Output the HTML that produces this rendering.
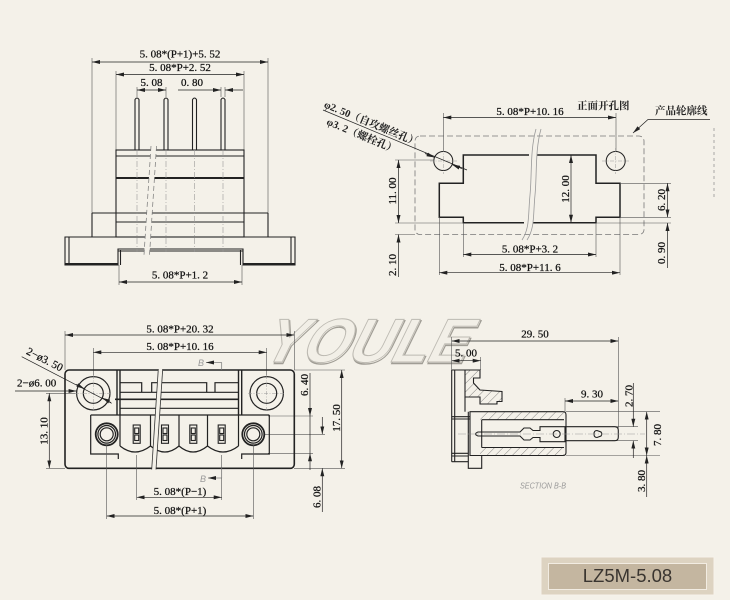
<!DOCTYPE html>
<html><head><meta charset="utf-8"><style>
html,body{margin:0;padding:0;background:#f4f1e9;}
svg{display:block}
.d{font-family:"Liberation Serif","Noto Serif CJK SC",serif;font-size:11px;fill:#111;stroke:#111;stroke-width:0.25px;}
.c{font-family:"Liberation Serif","Noto Serif CJK SC",serif;font-size:10.5px;fill:#222;font-weight:bold;}
</style></head><body>
<svg width="730" height="600" viewBox="0 0 730 600" xmlns="http://www.w3.org/2000/svg">
<defs>
<marker id="a" viewBox="0 0 8 4" refX="8" refY="2" markerWidth="8" markerHeight="4" markerUnits="userSpaceOnUse" orient="auto-start-reverse"><path d="M0,0L8,2L0,4z" fill="#222"/></marker>
<pattern id="h" patternUnits="userSpaceOnUse" width="6" height="6" patternTransform="rotate(45)"><line x1="0" y1="0" x2="0" y2="6" stroke="#555" stroke-width="0.7"/></pattern>
</defs>
<rect width="730" height="600" fill="#f4f1e9"/>

<!-- watermark -->
<g transform="translate(258,362) skewX(-26)" font-family="Liberation Sans" font-weight="bold" font-size="62">
<text x="1.5" y="1.5" textLength="205" lengthAdjust="spacingAndGlyphs" fill="none" stroke="#a09d95" stroke-width="1.4">YOULE</text>
<text x="0" y="0" textLength="205" lengthAdjust="spacingAndGlyphs" fill="#f2efe7" stroke="#bdbab2" stroke-width="1">YOULE</text>
</g>

<!-- ============ TOP-LEFT VIEW ============ -->
<g stroke="#555" stroke-width="0.6" fill="none">
<path d="M92,58V213M268,58V213M116,71V150M244,71V150M137,87V97M166,87V97M221,87V97M225,87V97M119,265V285M242,265V285"/>
</g>
<g stroke="#222" fill="none" stroke-width="1.1">
<path d="M135,150V99.5Q137,96.5 139,99.5V150M164,150V99.5Q166,96.5 168,99.5V150M192.5,150V99.5Q194.5,96.5 196.5,99.5V150M221,150V99.5Q223,96.5 225,99.5V150"/>
<rect x="116" y="150" width="128" height="87"/>
<path d="M116,156H244M92,213H268M116,222H244"/>
<path d="M116,178H244" stroke-width="2"/>
<path d="M92,237V213M268,237V213"/>
<path d="M65,237H295V265H243V249H118V265H65Z"/>
<path d="M69,237V265M291,237V265M120.5,250V265M240.5,250V265M118,251H243"/>
<path d="M65,264H118M243,264H295" stroke-width="2"/>
</g>
<g stroke="#999" stroke-width="0.6" stroke-dasharray="6 2 1 2">
<path d="M137,150V252M166,150V252M194.5,150V252M223,150V252"/>
</g>
<polygon points="151,146 156.5,146 149.5,255 144,255" fill="#f4f1e9"/>
<g stroke="#777" stroke-width="0.7" stroke-dasharray="5 3">
<line x1="151" y1="146" x2="144" y2="255"/><line x1="156.5" y1="146" x2="149.5" y2="255"/>
</g>
<g stroke="#222" stroke-width="0.7">
<line x1="92" y1="62" x2="268" y2="62" marker-start="url(#a)" marker-end="url(#a)"/>
<line x1="116" y1="74.5" x2="244" y2="74.5" marker-start="url(#a)" marker-end="url(#a)"/>
<line x1="137" y1="90" x2="166" y2="90" marker-start="url(#a)" marker-end="url(#a)"/>
<line x1="178" y1="90" x2="221" y2="90" marker-end="url(#a)"/>
<line x1="243" y1="90" x2="225" y2="90" marker-end="url(#a)"/>
<line x1="119" y1="282" x2="242" y2="282" marker-start="url(#a)" marker-end="url(#a)"/>
</g>
<text class="d" x="180" y="57.5" text-anchor="middle">5. 08*(P+1)+5. 52</text>
<text class="d" x="180" y="71" text-anchor="middle">5. 08*P+2. 52</text>
<text class="d" x="151.5" y="86" text-anchor="middle">5. 08</text>
<text class="d" x="192" y="86" text-anchor="middle">0. 80</text>
<text class="d" x="180" y="278.5" text-anchor="middle">5. 08*P+1. 2</text>

<!-- ============ TOP-RIGHT VIEW ============ -->
<rect x="415" y="136" width="229" height="98.5" rx="5" fill="none" stroke="#777" stroke-width="0.8" stroke-dasharray="6 3"/>
<path d="M463.3,155H596V183.3H620V217.3H596V222.7H463.3V217.3H439.3V183.3H463.3Z" fill="none" stroke="#222" stroke-width="1.5"/>
<rect x="529" y="152" width="8" height="6" fill="#f4f1e9"/>
<rect x="524" y="220" width="9" height="6" fill="#f4f1e9"/>
<g fill="none" stroke="#999" stroke-width="0.8">
<path d="M536,129C530,150 532,175 530,195C528,215 530,228 522,240"/>
<path d="M541,129C535,150 537,175 535,195C533,215 535,228 527,240"/>
</g>
<g fill="none" stroke="#222" stroke-width="1">
<circle cx="443.3" cy="161" r="9.5"/><circle cx="615.7" cy="161" r="9.5"/>
</g>
<g stroke="#999" stroke-width="0.5" stroke-dasharray="4 1.5 1 1.5">
<path d="M430,161H457M443.3,148V174M602,161H629M615.7,148V174"/>
</g>
<path d="M714,128V198" stroke="#888" stroke-width="0.7" stroke-dasharray="3 3"/>
<g stroke="#555" stroke-width="0.6" fill="none">
<path d="M443.3,113V151M616,113V151M395,160H434M395,223H463M596,223H671M395,234.5H415M620,183.3H671M620,217.3H671M463.3,223V257M596,223V257M439.3,217V275M620,217V275"/>
</g>
<g stroke="#222" stroke-width="0.7">
<line x1="443.3" y1="117.5" x2="616" y2="117.5" marker-start="url(#a)" marker-end="url(#a)"/>
<line x1="398.5" y1="160" x2="398.5" y2="223" marker-start="url(#a)" marker-end="url(#a)"/>
<line x1="398.5" y1="277" x2="398.5" y2="234.5" marker-end="url(#a)"/>
<line x1="571" y1="155" x2="571" y2="222.7" marker-start="url(#a)" marker-end="url(#a)"/>
<line x1="667.5" y1="183.3" x2="667.5" y2="217.3" marker-start="url(#a)" marker-end="url(#a)"/>
<line x1="667.5" y1="268" x2="667.5" y2="223" marker-end="url(#a)"/>
<line x1="463.3" y1="254.5" x2="596" y2="254.5" marker-start="url(#a)" marker-end="url(#a)"/>
<line x1="439.3" y1="272.7" x2="620" y2="272.7" marker-start="url(#a)" marker-end="url(#a)"/>
<line x1="323" y1="110" x2="467" y2="170"/>
<line x1="425" y1="153.5" x2="434.5" y2="157.4" marker-end="url(#a)"/>
<line x1="462" y1="168.7" x2="452.1" y2="164.6" marker-end="url(#a)"/>
<polyline points="710,119.5 648,119.5 633,133" fill="none" marker-end="url(#a)"/>
</g>
<text class="d" x="530" y="115" text-anchor="middle">5. 08*P+10. 16</text>
<text class="d" x="530" y="252.5" text-anchor="middle">5. 08*P+3. 2</text>
<text class="d" x="530" y="271" text-anchor="middle">5. 08*P+11. 6</text>
<text class="d" transform="translate(396,191) rotate(-90)" text-anchor="middle">11. 00</text>
<text class="d" transform="translate(396,265) rotate(-90)" text-anchor="middle">2. 10</text>
<text class="d" transform="translate(569,189) rotate(-90)" text-anchor="middle">12. 00</text>
<text class="d" transform="translate(665,200) rotate(-90)" text-anchor="middle">6. 20</text>
<text class="d" transform="translate(665,253) rotate(-90)" text-anchor="middle">0. 90</text>
<text class="c" x="577" y="109" font-size="10">正面开孔图</text>
<text class="c" x="655" y="114" font-size="10.5">产品轮廓线</text>
<text class="c" transform="translate(323,108) rotate(22.6)" x="0" y="-1">φ2. 50（自攻螺丝孔）</text>
<text class="c" transform="translate(323,108) rotate(22.6)" x="9" y="14">φ3. 2（螺栓孔）</text>

<!-- ============ BOTTOM-LEFT VIEW ============ -->
<g stroke="#555" stroke-width="0.6" fill="none">
<path d="M65,331V370M294.3,331V370M93.3,348V377M266.7,348V377M46,393.3H77M46,468.3H65M268,416H313M268,453.3H313M264,434.3H325M294,370H345M294,468.3H345"/>
</g>
<g stroke="#222" fill="none" stroke-width="1.2">
<rect x="65" y="370" width="229.3" height="98.3" rx="4" stroke-width="1.6"/>
<circle cx="93.3" cy="393.3" r="16.7"/><circle cx="93.3" cy="393.3" r="10"/>
<circle cx="266.7" cy="393.3" r="16.7"/><circle cx="266.7" cy="393.3" r="10"/>
<path d="M117,370V415M120,370V415M238.5,370V415M241.7,370V415" stroke-width="1.4"/>
<path d="M120,382.7H141.7V392.3M151.7,392.3V382.7H206.7V392.3M215,392.3V382.7H238.5"/>
<path d="M120,392.3H238.5"/>
<path d="M115,399.3H238.5" stroke-width="1.6"/>
<path d="M120,408.3H238.5"/>
<path d="M90.7,415H269.3"/>
<path d="M90.7,415V454H118.3V459M269.3,415V454H241.7V459"/>
<path d="M120,415V446M238.5,415V446M150.5,415V446M179,415V446M207.5,415V446"/>
<path d="M120,446Q135,458 150.5,446Q165,458 179,446Q193,458 207.5,446Q223,458 238.5,446"/>
<circle cx="106.7" cy="434.3" r="11" stroke-width="1.8"/><circle cx="106.7" cy="434.3" r="8.8"/><circle cx="106.7" cy="434.3" r="6.5"/>
<circle cx="253.3" cy="434.3" r="11" stroke-width="1.8"/><circle cx="253.3" cy="434.3" r="8.8"/><circle cx="253.3" cy="434.3" r="6.5"/>
<g stroke-width="1.1">
<rect x="133.2" y="425" width="7" height="18.3"/><rect x="134.7" y="428" width="4" height="5.5"/><rect x="134.7" y="435" width="4" height="5.5"/>
<rect x="161.5" y="425" width="7" height="18.3"/><rect x="163" y="428" width="4" height="5.5"/><rect x="163" y="435" width="4" height="5.5"/>
<rect x="189.8" y="425" width="7" height="18.3"/><rect x="191.3" y="428" width="4" height="5.5"/><rect x="191.3" y="435" width="4" height="5.5"/>
<rect x="218.2" y="425" width="7" height="18.3"/><rect x="219.7" y="428" width="4" height="5.5"/><rect x="219.7" y="435" width="4" height="5.5"/>
</g>
</g>
<g stroke="#999" stroke-width="0.5" stroke-dasharray="4 1.5 1 1.5">
<path d="M75,393.3H112M93.3,375V412M248,393.3H285M266.7,375V412"/>
</g>
<g stroke="#555" stroke-width="0.6">
<path d="M136.7,455V500M221.7,455V500M106.7,445V519M253.3,445V519"/>
</g>
<polygon points="158.3,369 162.7,369 156,469.5 151.7,469.5" fill="#f4f1e9"/>
<g stroke="#333" stroke-width="0.8">
<line x1="158.3" y1="369" x2="151.7" y2="469.5"/><line x1="162.7" y1="369" x2="156" y2="469.5"/>
</g>
<g stroke="#777" stroke-width="0.7" fill="none">
<path d="M221.7,362.5V370M221.7,468V478"/>
<line x1="221.7" y1="362.5" x2="206" y2="362.5" marker-end="url(#a)"/>
<line x1="221.7" y1="478" x2="208" y2="478" marker-end="url(#a)"/>
</g>
<text x="198" y="366" font-family="Liberation Sans" font-style="italic" font-size="9" fill="#999">B</text>
<text x="200" y="482" font-family="Liberation Sans" font-style="italic" font-size="9" fill="#999">B</text>
<g stroke="#222" stroke-width="0.7">
<line x1="65" y1="335" x2="294.3" y2="335" marker-start="url(#a)" marker-end="url(#a)"/>
<line x1="93.3" y1="352.3" x2="266.7" y2="352.3" marker-start="url(#a)" marker-end="url(#a)"/>
<line x1="136.7" y1="497.3" x2="221.7" y2="497.3" marker-start="url(#a)" marker-end="url(#a)"/>
<line x1="106.7" y1="516" x2="253.3" y2="516" marker-start="url(#a)" marker-end="url(#a)"/>
<line x1="49.3" y1="393.3" x2="49.3" y2="468.3" marker-start="url(#a)" marker-end="url(#a)"/>
<line x1="310" y1="373" x2="310" y2="416" marker-end="url(#a)"/>
<line x1="310" y1="470" x2="310" y2="453.3" marker-end="url(#a)"/>
<line x1="310" y1="416" x2="310" y2="453.3"/>
<line x1="341.7" y1="370" x2="341.7" y2="468.3" marker-start="url(#a)" marker-end="url(#a)"/>
<line x1="322.3" y1="417" x2="322.3" y2="434.3" marker-end="url(#a)"/>
<line x1="322.3" y1="512" x2="322.3" y2="468.3" marker-end="url(#a)"/>
<line x1="21.7" y1="356.7" x2="111.7" y2="403.3"/>
<line x1="76" y1="384.3" x2="84.4" y2="388.7" marker-end="url(#a)"/>
<line x1="111" y1="402.5" x2="102.2" y2="397.9" marker-end="url(#a)"/>
<line x1="15" y1="391" x2="76.6" y2="391" marker-end="url(#a)"/>
</g>
<text class="d" x="180" y="332.5" text-anchor="middle">5. 08*P+20. 32</text>
<text class="d" x="180" y="350" text-anchor="middle">5. 08*P+10. 16</text>
<text class="d" x="180" y="495" text-anchor="middle">5. 08*(P−1)</text>
<text class="d" x="180" y="514" text-anchor="middle">5. 08*(P+1)</text>
<text class="d" x="17" y="386.5">2−ø6. 00</text>
<text class="d" transform="translate(25,355) rotate(27)" x="0" y="-1.5">2−ø3. 50</text>
<text class="d" transform="translate(47.5,431) rotate(-90)" text-anchor="middle">13. 10</text>
<text class="d" transform="translate(308,385) rotate(-90)" text-anchor="middle">6. 40</text>
<text class="d" transform="translate(340,418) rotate(-90)" text-anchor="middle">17. 50</text>
<text class="d" transform="translate(320.5,497) rotate(-90)" text-anchor="middle">6. 08</text>

<!-- ============ BOTTOM-RIGHT VIEW (SECTION) ============ -->
<g stroke="#555" stroke-width="0.6" fill="none">
<path d="M451.7,337V370M618.3,337V428M480.7,357V370M565,398V411.7M566,411.7H660M566,455.5H660M612,426.7H638M612,440.7H638"/>
</g>
<polygon points="465,370 480,370 480,378 473.5,378 473.5,383 480,390 502,391.5 502,401.5 497,401.5 497,404 480,404 480,397 465,397" fill="url(#h)" stroke="#222" stroke-width="1.1"/>
<rect x="480" y="411.7" width="84" height="8" fill="url(#h)"/>
<rect x="480" y="447.5" width="84" height="8" fill="url(#h)"/>
<g stroke="#222" fill="none" stroke-width="1.1">
<path d="M451.7,370V461.7M454.7,370V461.7M451.7,370H465M451.7,461.7H468.3M451.7,416.7H470M451.7,419H470M451.7,453.3H468.3M451.7,456H468.3"/>
<path d="M465,397V411.7"/>
<path d="M470,411.7H563Q566,411.7 566,414.7V452.5Q566,455.5 563,455.5H470Z"/>
<path d="M468.3,455.5V468.3H481.7V455.5M468.3,411.7V455.5M481.7,419.7V447.5"/>
<path d="M481.7,419.7H564M481.7,447.5H564"/>
<path d="M478,432Q473,434 478,436H520L524,440H530L533,437.5H540V441.7H565V426.7H540V430.5H533L530,428H524L520,432Z"/>
<circle cx="556.7" cy="434" r="3.5"/>
<path d="M565,426.7H614.7Q618.3,426.7 618.3,430.3V437.1Q618.3,440.7 614.7,440.7H565"/>
<path d="M594,434Q594,430.5 597,430.5L601,432Q602.5,434 601,436L597,437.5Q594,437.5 594,434Z"/>
</g>
<path d="M458,434H645" stroke="#999" stroke-width="0.5" stroke-dasharray="8 2 1 2"/>
<g stroke="#222" stroke-width="0.7">
<line x1="451.7" y1="341" x2="618.3" y2="341" marker-start="url(#a)" marker-end="url(#a)"/>
<line x1="451.7" y1="360.7" x2="480.7" y2="360.7" marker-start="url(#a)" marker-end="url(#a)"/>
<line x1="565" y1="401" x2="618.3" y2="401" marker-start="url(#a)" marker-end="url(#a)"/>
<line x1="633.3" y1="383" x2="633.3" y2="426.7" marker-end="url(#a)"/>
<line x1="633.3" y1="458" x2="633.3" y2="440.7" marker-end="url(#a)"/>
<line x1="646.7" y1="411.7" x2="646.7" y2="455.5" marker-start="url(#a)" marker-end="url(#a)"/>
<line x1="646.7" y1="497" x2="646.7" y2="455.5" marker-end="url(#a)"/>
</g>
<text class="d" x="535" y="337.5" text-anchor="middle">29. 50</text>
<text class="d" x="466" y="356.5" text-anchor="middle">5. 00</text>
<text class="d" x="592" y="397.5" text-anchor="middle">9. 30</text>
<text class="d" transform="translate(632.5,396) rotate(-90)" text-anchor="middle">2. 70</text>
<text class="d" transform="translate(661,435) rotate(-90)" text-anchor="middle">7. 80</text>
<text class="d" transform="translate(645,481) rotate(-90)" text-anchor="middle">3. 80</text>
<text x="520" y="488.5" font-family="Liberation Sans" font-style="italic" font-size="8.5" fill="#999" textLength="46" lengthAdjust="spacingAndGlyphs">SECTION B-B</text>

<!-- label -->
<rect x="541" y="557" width="173" height="38" fill="#ddd3c1" stroke="#f6f2ea" stroke-width="1"/>
<rect x="548.5" y="563.5" width="158" height="26" fill="#c4b6a0" stroke="#f2ece2" stroke-width="1"/>
<text x="627.5" y="582" text-anchor="middle" font-family="Liberation Sans" font-size="18.5" fill="#3a3530">LZ5M-5.08</text>
</svg>
</body></html>
